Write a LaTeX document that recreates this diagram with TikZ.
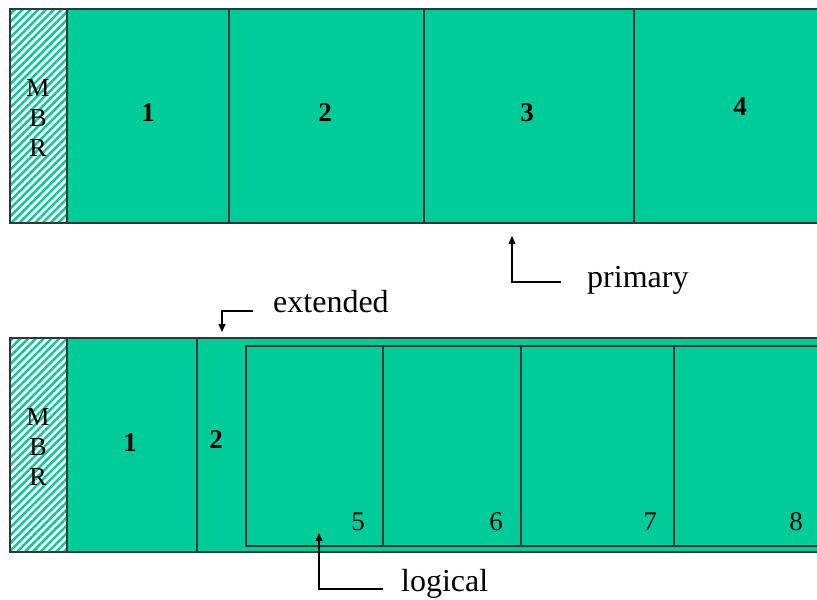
\documentclass[tikz,border=0pt]{standalone}
\usepackage{fontspec}
\setmainfont{Liberation Serif}
\usetikzlibrary{patterns.meta,arrows.meta}
\definecolor{partgreen}{HTML}{00CC99}
\definecolor{edgegray}{HTML}{2A3A35}
\tikzset{
  part/.style={draw=edgegray, line width=1.2pt, fill=partgreen, inner sep=0pt, outer sep=0pt, anchor=north west},
  mbr/.style={draw=edgegray, line width=1.2pt, fill=white, pattern={Lines[angle=45,distance=5.5pt,line width=2.4pt]}, pattern color=partgreen, inner sep=0pt, outer sep=0pt, anchor=north west},
  mbrtxt/.style={font=\fontsize{26}{30}\selectfont, align=center},
  bnum/.style={font=\fontsize{27}{27}\selectfont\bfseries},
  lnum/.style={font=\fontsize{27}{27}\selectfont},
  lbl/.style={font=\fontsize{32}{32}\selectfont, anchor=west, inner sep=0pt},
  ptr/.style={draw=black, line width=1.2pt, -{Triangle[length=8pt,width=7pt]}}
}
\begin{document}
\begin{tikzpicture}[x=1pt,y=-1pt]
\useasboundingbox (0,0) rectangle (817,600);
\clip (0,0) rectangle (817,600);
% top disk
\node[part, minimum width=162pt, minimum height=214pt] (t1) at (67,9) {};
\node[part, minimum width=195pt, minimum height=214pt] (t2) at (229,9) {};
\node[part, minimum width=210pt, minimum height=214pt] (t3) at (424,9) {};
\node[part, minimum width=200pt, minimum height=214pt] (t4) at (634,9) {};
\fill[white] (10,9) rectangle (67,223);
\node[mbr, minimum width=57pt, minimum height=214pt] (tm) at (10,9) {};
\node[mbrtxt] (tmt) at (38,118) {M\\B\\R};
\node[bnum] (tl1) at (148,113) {1};
\node[bnum] (tl2) at (325,113) {2};
\node[bnum] (tl3) at (527,113) {3};
\node[bnum] (tl4) at (740,107) {4};
% bottom disk
\node[part, minimum width=130pt, minimum height=214pt] (b1) at (67,338) {};
\node[part, minimum width=640pt, minimum height=214pt] (b2) at (197,338) {};
\fill[white] (10,338) rectangle (67,552);
\node[mbr, minimum width=57pt, minimum height=214pt] (bm) at (10,338) {};
\node[mbrtxt] (bmt) at (38,447) {M\\B\\R};
\node[part, minimum width=137pt, minimum height=200pt] (l5) at (246,346) {};
\node[part, minimum width=138pt, minimum height=200pt] (l6) at (383,346) {};
\node[part, minimum width=153pt, minimum height=200pt] (l7) at (521,346) {};
\node[part, minimum width=160pt, minimum height=200pt] (l8) at (674,346) {};
\node[bnum] (bl1) at (130,443) {1};
\node[bnum] (bl2) at (216,440) {2};
\node[lnum] (n5) at (358,522) {5};
\node[lnum] (n6) at (496,522) {6};
\node[lnum] (n7) at (650,522) {7};
\node[lnum] (n8) at (796,522) {8};
% labels and pointers
\node[lbl] (primary) at (587,280) {primary};
\node[lbl] (extended) at (273,302) {extended};
\node[lbl] (logical) at (401,584) {logical};
\coordinate (pa) at (561,282);
\coordinate (pb) at (512,282);
\coordinate (pc) at (512,236);
\draw[ptr] (pa) -- (pb) -- (pc);
\coordinate (ea) at (253,311);
\coordinate (eb) at (222,311);
\coordinate (ec) at (222,332);
\draw[ptr] (ea) -- (eb) -- (ec);
\coordinate (la) at (383,589);
\coordinate (lb) at (319,589);
\coordinate (lc) at (319,533);
\draw[ptr] (la) -- (lb) -- (lc);
\end{tikzpicture}
\end{document}
